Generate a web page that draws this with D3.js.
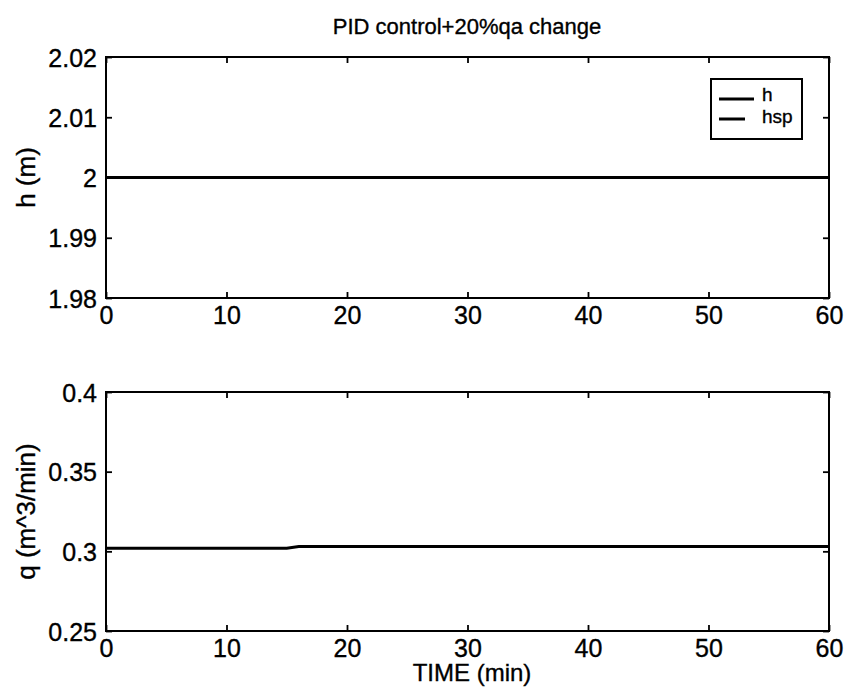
<!DOCTYPE html>
<html><head><meta charset="utf-8">
<script src="https://cdn.jsdelivr.net/npm/d3@7"></script>
<style>
body{margin:0;background:#fff;}
text{font-family:"Liberation Sans",Arial,sans-serif;fill:#000;stroke:#000;stroke-width:0.35px;}
</style></head>
<body>
<svg id="c" width="847" height="696"></svg>
<script>
// ---- data ----
const timeValues = [0, 15, 16, 60];
const hValues   = [2.0, 2.0, 2.0, 2.0];
const hspValues = [2.0, 2.0, 2.0, 2.0];
const qValues   = [0.302, 0.302, 0.303, 0.303];
const xTicks  = [0, 10, 20, 30, 40, 50, 60];
const hTicks  = [1.98, 1.99, 2.0, 2.01, 2.02];
const qTicks  = [0.25, 0.3, 0.35, 0.4];
const legendLabels = ["h", "hsp"];
const title = "PID control+20%qa change";
const xLabel = "TIME (min)";
const hLabel = "h (m)";
const qLabel = "q (m^3/min)";

const svg = d3.select("#c");
const x = d3.scaleLinear().domain([0, 60]).range([106, 829]);
const yH = d3.scaleLinear().domain([1.98, 2.02]).range([298, 57]);
const yQ = d3.scaleLinear().domain([0.25, 0.4]).range([631, 392]);
const tickLen = 6;
const fs = 25;

function panel(y, yTicks, fmt, series, ylab) {
  const g = svg.append("g");
  const [y0, y1] = y.range();
  const [x0, x1] = x.range();
  const line = d3.line().x((d,i)=>x(timeValues[i])).y(d=>y(d));
  series.forEach(s => {
    g.append("path").datum(s).attr("d", line)
      .attr("fill","none").attr("stroke","#000").attr("stroke-width",3);
  });
  g.append("rect").attr("x",x0).attr("y",y1).attr("width",x1-x0).attr("height",y0-y1)
    .attr("fill","none").attr("stroke","#000").attr("stroke-width",2);
  const bottom = g.append("g").attr("transform",`translate(0,${y0})`)
    .call(d3.axisBottom(x).tickValues(xTicks).tickSizeInner(-tickLen).tickSizeOuter(0).tickFormat(d3.format("d")));
  const top = g.append("g").attr("transform",`translate(0,${y1})`)
    .call(d3.axisTop(x).tickValues(xTicks).tickSizeInner(-tickLen).tickSizeOuter(0).tickFormat(""));
  const left = g.append("g").attr("transform",`translate(${x0},0)`)
    .call(d3.axisLeft(y).tickValues(yTicks).tickSizeInner(-tickLen).tickSizeOuter(0).tickPadding(9).tickFormat(fmt));
  const right = g.append("g").attr("transform",`translate(${x1},0)`)
    .call(d3.axisRight(y).tickValues(yTicks).tickSizeInner(-tickLen).tickSizeOuter(0).tickFormat(""));
  [bottom, top, left, right].forEach(a => {
    a.select(".domain").remove();
    a.selectAll("line").attr("stroke","#000").attr("stroke-width",1.8);
    a.selectAll("text").style("font-size", fs+"px").style("font-family","Liberation Sans, Arial, sans-serif")
      .attr("fill","#000").attr("stroke","#000").attr("stroke-width",0.4);
  });
  bottom.selectAll("text").attr("dy","0.71em").attr("y", 8);
  left.selectAll("text").attr("dy","0.36em");
  g.append("text").attr("transform",`translate(35,${(y0+y1)/2}) rotate(-90)`)
    .attr("text-anchor","middle").style("font-size","26px").text(ylab);
  return g;
}

const fmtH = d => (d === 2 ? "2" : d3.format(".2f")(d));
const fmtQ = d => (d === 0.3 ? "0.3" : d === 0.4 ? "0.4" : d3.format(".2f")(d));

panel(yH, hTicks, fmtH, [hValues, hspValues], hLabel);
panel(yQ, qTicks, fmtQ, [qValues], qLabel);

svg.append("text").attr("x", 467).attr("y", 34).attr("text-anchor","middle")
  .style("font-size","22px").text(title);
svg.append("text").attr("x", 472).attr("y", 681).attr("text-anchor","middle")
  .style("font-size","24px").text(xLabel);

// legend
const lg = svg.append("g");
lg.append("rect").attr("x",711).attr("y",79).attr("width",91).attr("height",60)
  .attr("fill","#fff").attr("stroke","#000").attr("stroke-width",2);
const legendY = [99, 119];
const legendLen = [35, 26];
const legendBase = [101, 123];
legendLabels.forEach((lab, i) => {
  lg.append("line").attr("x1",719).attr("x2",719+legendLen[i]).attr("y1",legendY[i]).attr("y2",legendY[i])
    .attr("stroke","#000").attr("stroke-width",3);
  lg.append("text").attr("x",762).attr("y",legendBase[i]).style("font-size","19px").text(lab);
});
</script>
</body></html>
